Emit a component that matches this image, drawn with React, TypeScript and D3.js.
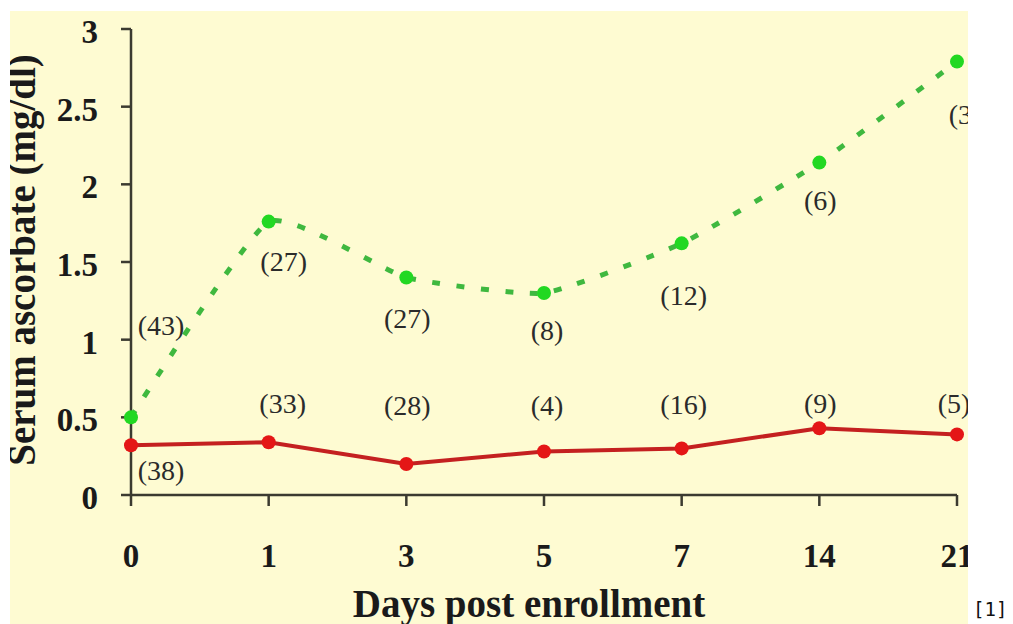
import React from "react";
import * as d3 from "d3";

const days = ["0", "1", "3", "5", "7", "14", "21"];
const greenValues = [0.5, 1.76, 1.4, 1.3, 1.62, 2.14, 2.79];
const redValues = [0.32, 0.34, 0.2, 0.28, 0.3, 0.43, 0.39];
const greenN = ["(43)", "(27)", "(27)", "(8)", "(12)", "(6)", "(3)"];
const redN = ["(38)", "(33)", "(28)", "(4)", "(16)", "(9)", "(5)"];
const yTicks = [0, 0.5, 1, 1.5, 2, 2.5, 3];

// label placement (pixel offsets from the data point: dx of text center, dy of baseline)
const greenLabelOffset = [
  [30, -82],
  [15, 49],
  [1, 50],
  [3, 47],
  [2, 62],
  [1, 47],
  [8, 62],
];
const redLabelOffset = [
  [30, 35],
  [14, -29],
  [1, -49],
  [3, -37],
  [2, -34],
  [1, -15],
  [-3, -21],
];

const W = 1013;
const H = 624;

export default function App() {
  const x = d3.scalePoint<string>().domain(days).range([131, 957]);
  const y = d3.scaleLinear().domain([0, 3]).range([495, 29]);

  const greenPts: [number, number][] = greenValues.map((v, i) => [x(days[i])!, y(v)]);
  const redPts: [number, number][] = redValues.map((v, i) => [x(days[i])!, y(v)]);

  const greenLine = d3.line().curve(d3.curveCardinal.tension(0.55))(greenPts) || "";
  const redLine = d3.line()(redPts) || "";

  const serif = "'Liberation Serif', 'Times New Roman', serif";

  return (
    <svg
      width={W}
      height={H}
      style={{ position: "absolute", left: 0, top: 0 }}
      viewBox={`0 0 ${W} ${H}`}
    >
      <defs>
        <clipPath id="panel">
          <rect x={10} y={11} width={958} height={613} />
        </clipPath>
      </defs>
      <rect x={0} y={0} width={W} height={H} fill="#ffffff" />
      <g clipPath="url(#panel)">
        <rect x={10} y={11} width={958} height={613} fill="#fefbd2" />

        {/* y axis title */}
        <text
          transform={`translate(35,260) rotate(-90)`}
          textAnchor="middle"
          fontFamily={serif}
          fontWeight="bold"
          fontSize={39}
          fill="#1a1a1a"
        >
          Serum ascorbate (mg/dl)
        </text>

        {/* axes */}
        <g stroke="#3b3a30" strokeWidth={2.5} fill="none">
          <line x1={131} x2={131} y1={y(3)} y2={y(0)} />
          <line x1={131} x2={957} y1={y(0)} y2={y(0)} />
          {yTicks.map((t) => (
            <line key={"yt" + t} x1={121} x2={131} y1={y(t)} y2={y(t)} />
          ))}
          {days.map((d) => (
            <line key={"xt" + d} x1={x(d)} x2={x(d)} y1={y(0)} y2={y(0) + 11} />
          ))}
        </g>

        {yTicks.map((t) => (
          <text
            key={"yl" + t}
            x={98}
            y={y(t) + 14}
            textAnchor="end"
            fontFamily={serif}
            fontWeight="bold"
            fontSize={33}
            fill="#1a1a1a"
          >
            {String(t)}
          </text>
        ))}
        {days.map((d) => (
          <text
            key={"xl" + d}
            x={x(d)}
            y={567}
            textAnchor="middle"
            fontFamily={serif}
            fontWeight="bold"
            fontSize={33}
            fill="#1a1a1a"
          >
            {d}
          </text>
        ))}

        <text
          x={529}
          y={617}
          textAnchor="middle"
          fontFamily={serif}
          fontWeight="bold"
          fontSize={39}
          fill="#1a1a1a"
        >
          Days post enrollment
        </text>

        {/* red series */}
        <path d={redLine} fill="none" stroke="#c42020" strokeWidth={4} />
        {redPts.map((p, i) => (
          <circle key={"r" + i} cx={p[0]} cy={p[1]} r={7} fill="#e41616" />
        ))}

        {/* green series */}
        <path
          d={greenLine}
          fill="none"
          stroke="#3fb83f"
          strokeWidth={5}
          strokeDasharray="8 16.5"
        />
        {greenPts.map((p, i) => (
          <circle key={"g" + i} cx={p[0]} cy={p[1]} r={7} fill="#22d822" />
        ))}

        {/* n labels */}
        {greenN.map((t, i) => (
          <text
            key={"gn" + i}
            x={greenPts[i][0] + greenLabelOffset[i][0]}
            y={greenPts[i][1] + greenLabelOffset[i][1]}
            textAnchor="middle"
            fontFamily={serif}
            fontSize={28}
            fill="#2b2b2b"
          >
            {t}
          </text>
        ))}
        {redN.map((t, i) => (
          <text
            key={"rn" + i}
            x={redPts[i][0] + redLabelOffset[i][0]}
            y={redPts[i][1] + redLabelOffset[i][1]}
            textAnchor="middle"
            fontFamily={serif}
            fontSize={28}
            fill="#2b2b2b"
          >
            {t}
          </text>
        ))}
      </g>

      <text
        x={973}
        y={616}
        fontFamily="'DejaVu Sans Mono', monospace"
        fontSize={19}
        fill="#111"
      >
        [1]
      </text>
    </svg>
  );
}
